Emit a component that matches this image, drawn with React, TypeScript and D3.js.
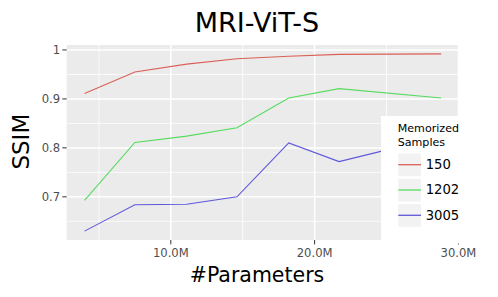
import React from 'react';
import * as d3 from 'd3';

// #Parameters in millions
const params = [4.0, 7.5, 11.1, 14.6, 18.2, 21.7, 28.8];
const ssim150 = [0.911, 0.955, 0.971, 0.982, 0.987, 0.991, 0.992];
const ssim1202 = [0.693, 0.811, 0.824, 0.841, 0.902, 0.921, 0.902];
const ssim3005 = [0.630, 0.684, 0.685, 0.700, 0.810, 0.772, 0.823];

const seriesNames = ['150', '1202', '3005'];
const seriesColors = ['#DB5F57', '#57DB5F', '#5F57DB'];

const xMajor = [10, 20, 30];
const xMinor = [5, 15, 25];
const yMajor = [0.7, 0.8, 0.9, 1.0];
const yMinor = [0.65, 0.75, 0.85, 0.95];

const W = 498;
const H = 297;
const FONT = 'DejaVu Sans, sans-serif';

function expand(ext: [number, number]): [number, number] {
  const pad = (ext[1] - ext[0]) * 0.05;
  return [ext[0] - pad, ext[1] + pad];
}

export default function App() {
  const panel = { left: 66.7, right: 459, top: 45, bottom: 240 };
  const allY = [...ssim150, ...ssim1202, ...ssim3005];

  const x = d3.scaleLinear()
    .domain(expand(d3.extent(params) as [number, number]))
    .range([panel.left, panel.right]);
  const y = d3.scaleLinear()
    .domain(expand(d3.extent(allY) as [number, number]))
    .range([panel.bottom, panel.top]);

  const series = [ssim150, ssim1202, ssim3005];
  const line = d3.line<number>()
    .x((_, i) => x(params[i]))
    .y(d => y(d));

  const inX = (v: number) => x(v) >= panel.left && x(v) <= panel.right;
  const inY = (v: number) => y(v) >= panel.top && y(v) <= panel.bottom;

  const legend = { x: 381, y: 116, w: 117, h: 127.5 };

  return (
    <div style={{ position: 'fixed', left: 0, top: 0 }}>
      <svg width={W} height={H} style={{ display: 'block', background: '#fff' }} fontFamily={FONT}>
        {/* panel */}
        <rect x={panel.left} y={panel.top} width={panel.right - panel.left}
          height={panel.bottom - panel.top} fill="#EBEBEB" />
        {/* grid */}
        {yMinor.filter(inY).map(v => (
          <line key={'ym' + v} x1={panel.left} x2={panel.right} y1={y(v)} y2={y(v)}
            stroke="#fff" strokeWidth={0.8} />
        ))}
        {xMinor.filter(inX).map(v => (
          <line key={'xm' + v} y1={panel.top} y2={panel.bottom} x1={x(v)} x2={x(v)}
            stroke="#fff" strokeWidth={0.8} />
        ))}
        {yMajor.filter(inY).map(v => (
          <line key={'yM' + v} x1={panel.left} x2={panel.right} y1={y(v)} y2={y(v)}
            stroke="#fff" strokeWidth={1.5} />
        ))}
        {xMajor.filter(inX).map(v => (
          <line key={'xM' + v} y1={panel.top} y2={panel.bottom} x1={x(v)} x2={x(v)}
            stroke="#fff" strokeWidth={1.5} />
        ))}

        {/* lines */}
        {series.map((s, i) => (
          <path key={seriesNames[i]} d={line(s) || ''} fill="none"
            stroke={seriesColors[i]} strokeWidth={1.1} />
        ))}

        {/* y axis */}
        {yMajor.map(v => (
          <g key={'yt' + v}>
            <line x1={panel.left - 4.4} x2={panel.left} y1={y(v)} y2={y(v)} stroke="#333" strokeWidth={1} />
            <text x={panel.left - 6.5} y={y(v)} dy="0.36em" textAnchor="end"
              fontSize={11.6} fill="#4D4D4D">{d3.format('~g')(v)}</text>
          </g>
        ))}
        {/* x axis */}
        {xMajor.map(v => (
          <g key={'xt' + v}>
            <line y1={panel.bottom} y2={panel.bottom + 4.4} x1={x(v)} x2={x(v)} stroke="#333" strokeWidth={1} />
            <text x={x(v)} y={256.7} textAnchor="middle" fontSize={11.6}
              fill="#4D4D4D">{v.toFixed(1) + 'M'}</text>
          </g>
        ))}

        {/* titles */}
        <text x={257} y={31.7} textAnchor="middle" fontSize={27} fill="#000">MRI-ViT-S</text>
        <text x={257} y={281.7} textAnchor="middle" fontSize={20.5} fill="#000">#Parameters</text>
        <text transform="translate(29,141.7) rotate(-90)" textAnchor="middle" fontSize={23}
          fill="#000">SSIM</text>

        {/* legend */}
        <rect x={legend.x} y={legend.y} width={legend.w} height={legend.h} fill="#fff" />
        <text x={397.7} y={132.3} fontSize={11.1} fill="#000">Memorized</text>
        <text x={397.7} y={146.3} fontSize={11.1} fill="#000">Samples</text>
        {seriesNames.map((name, i) => {
          const top = 153.5 + i * 25.3;
          return (
            <g key={'lg' + name}>
              <rect x={398.3} y={top} width={22.7} height={22.7} fill="#F2F2F2" />
              <line x1={398.3} x2={421} y1={top + 11.2} y2={top + 11.2}
                stroke={seriesColors[i]} strokeWidth={1.3} />
              <text x={425.7} y={top + 15.6} fontSize={13.2} fill="#000">{name}</text>
            </g>
          );
        })}
      </svg>
    </div>
  );
}
